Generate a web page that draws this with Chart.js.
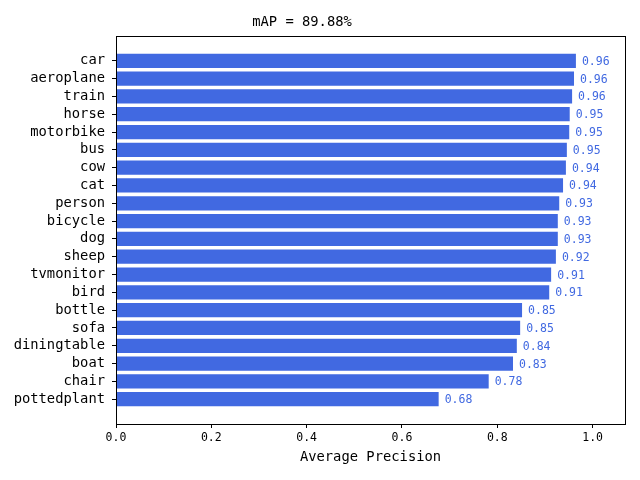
<!DOCTYPE html>
<html>
<head>
<meta charset="utf-8">
<script src="https://cdn.jsdelivr.net/npm/chart.js@4/dist/chart.umd.min.js"></script>
<style>
  body { margin: 0; background: #fff; }
  canvas { display: block; }
</style>
</head>
<body>
<canvas id="ap-chart" width="640" height="480"></canvas>
<script>
// data, top bar first
const classNames = ['car', 'aeroplane', 'train', 'horse', 'motorbike', 'bus', 'cow', 'cat',
  'person', 'bicycle', 'dog', 'sheep', 'tvmonitor', 'bird', 'bottle', 'sofa',
  'diningtable', 'boat', 'chair', 'pottedplant'];
const apValues = [0.965, 0.961, 0.957, 0.952, 0.951, 0.946, 0.944, 0.938,
  0.930, 0.927, 0.927, 0.923, 0.913, 0.909, 0.852, 0.848,
  0.841, 0.833, 0.782, 0.677];
const xTickValues = [0.0, 0.2, 0.4, 0.6, 0.8, 1.0];
const titleText = 'mAP = 89.88%';
const xLabel = 'Average Precision';

const FONT = "'DejaVu Sans Mono', monospace";
const BLUE = '#4169e1';

Chart.defaults.color = '#000';
Chart.defaults.font.family = FONT;

// frame around the plot area + title
const framePlugin = {
  id: 'frame',
  afterDraw(chart) {
    const { ctx, chartArea: a } = chart;
    ctx.save();
    ctx.strokeStyle = '#000';
    ctx.lineWidth = 1;
    ctx.strokeRect(a.left + 0.5, a.top + 0.5, a.right - a.left, a.bottom - a.top);
    ctx.fillStyle = '#000';
    ctx.font = '13.8px ' + FONT;
    ctx.textAlign = 'center';
    ctx.textBaseline = 'middle';
    ctx.fillText(titleText, 302, 22);
    ctx.restore();
  }
};

// value text next to each bar
const valueLabels = {
  id: 'valueLabels',
  afterDatasetsDraw(chart) {
    const { ctx } = chart;
    const meta = chart.getDatasetMeta(0);
    ctx.save();
    ctx.fillStyle = BLUE;
    ctx.font = '11.5px ' + FONT;
    ctx.textAlign = 'left';
    ctx.textBaseline = 'middle';
    meta.data.forEach((bar, i) => {
      ctx.fillText(apValues[i].toFixed(2), bar.x + 6, bar.y + 1);
    });
    ctx.restore();
  }
};

new Chart(document.getElementById('ap-chart'), {
  type: 'bar',
  data: {
    datasets: [{
      data: apValues.map((v, i) => ({ x: v, y: i })),
      backgroundColor: BLUE,
      borderWidth: 0,
      barPercentage: 0.8,
      categoryPercentage: 1.0
    }]
  },
  options: {
    indexAxis: 'y',
    responsive: false,
    animation: false,
    layout: { padding: { top: 36, right: 15, left: 0, bottom: 0 } },
    plugins: {
      legend: { display: false },
      tooltip: { enabled: false },
      title: { display: false }
    },
    scales: {
      x: {
        type: 'linear',
        min: 0,
        max: 1.068,
        afterBuildTicks: (s) => { s.ticks = xTickValues.map(v => ({ value: v })); },
        afterFit: (s) => { s.height = 56; },
        ticks: {
          font: { size: 11.5 },
          padding: 3,
          callback: (v) => Number(v).toFixed(1)
        },
        grid: { drawOnChartArea: false, drawTicks: true, tickLength: 4, color: '#000' },
        border: { display: true, color: '#000' },
        title: {
          display: true,
          text: xLabel,
          font: { size: 13.8 },
          padding: { top: 0, bottom: 14 }
        }
      },
      y: {
        type: 'linear',
        reverse: true,
        offset: false,
        min: -1.39,
        max: 20.39,
        afterBuildTicks: (s) => { s.ticks = classNames.map((n, i) => ({ value: i })); },
        afterFit: (s) => { s.width = 116; },
        ticks: {
          font: { size: 13.8 },
          padding: 7,
          autoSkip: false,
          callback: (v) => classNames[v]
        },
        grid: { offset: false, drawOnChartArea: false, drawTicks: true, tickLength: 4, color: '#000' },
        border: { display: true, color: '#000' }
      }
    }
  },
  plugins: [framePlugin, valueLabels]
});
</script>
</body>
</html>
